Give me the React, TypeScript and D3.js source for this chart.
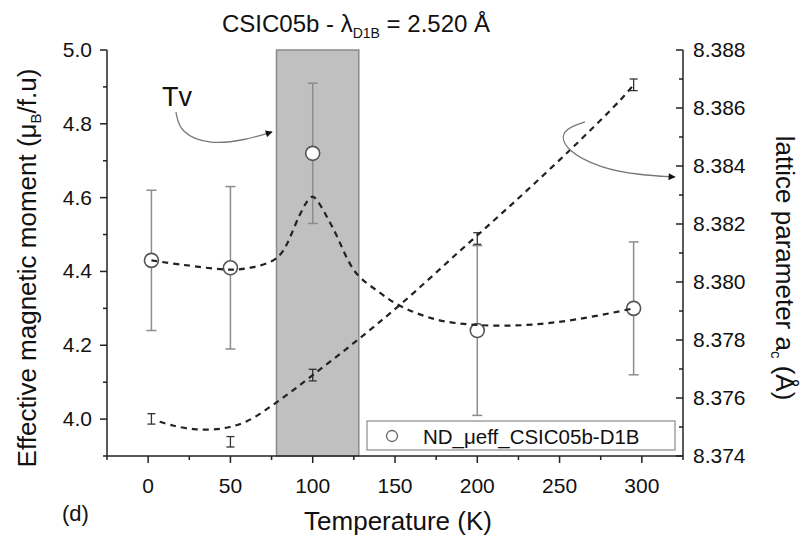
import React from "react";
import * as d3 from "d3";

// ---- data ----
const temps = [2, 50, 100, 200, 295];
const mueff = [4.43, 4.41, 4.72, 4.24, 4.30];
const mueffErr = [0.19, 0.22, 0.19, 0.23, 0.18];

const latticeT = [2, 50, 100, 200, 295];
const lattice = [8.37528, 8.37449, 8.37679, 8.3815, 8.3868];
const latticeErr = [0.00018, 0.00018, 0.0002, 0.0002, 0.0002];

// guide-to-the-eye dashed curves
const muFitT = [2, 21, 50, 63, 76, 82, 92, 97, 100, 103, 112, 126, 140, 153, 175, 200, 230, 260, 295];
const muFitV = [4.43, 4.418, 4.405, 4.411, 4.43, 4.456, 4.552, 4.592, 4.603, 4.59, 4.52, 4.398, 4.345, 4.307, 4.27, 4.255, 4.255, 4.27, 4.30];

const latFitT = [7, 15, 29, 45, 60, 80, 100, 125, 153, 190, 226, 260, 287, 295];
const latFitV = [8.37518, 8.37505, 8.37492, 8.37495, 8.3752, 8.37593, 8.37679, 8.3779, 8.37921, 8.3811, 8.38294, 8.38475, 8.38628, 8.3868];

const shadeRange = [78, 128];

const xTicks = [0, 50, 100, 150, 200, 250, 300];
const xMinor = [-25, 25, 75, 125, 175, 225, 275, 325];
const yLTicks = [4.0, 4.2, 4.4, 4.6, 4.8, 5.0];
const yLMinor = [3.9, 4.1, 4.3, 4.5, 4.7, 4.9];
const yRTicks = [8.374, 8.376, 8.378, 8.38, 8.382, 8.384, 8.386, 8.388];
const yRMinor = [8.375, 8.377, 8.379, 8.381, 8.383, 8.385, 8.387];

// annotation arrows in data coordinates (T, left-axis value)
const arrowTvT = [16.9, 19.4, 37.6, 58.9, 75.3];
const arrowTvV = [4.832, 4.775, 4.743, 4.756, 4.778];
const arrowRT = [265.4, 250.3, 253.3, 274.6, 298.9, 320.1];
const arrowRV = [4.805, 4.783, 4.729, 4.68, 4.661, 4.656];

const FONT = "'Liberation Sans', Arial, Helvetica, sans-serif";

export default function App() {
  const W = 807, H = 540;
  const L = 107, R = 683, T = 50, B = 456;
  const x = d3.scaleLinear().domain([-25, 325]).range([L, R]);
  const yL = d3.scaleLinear().domain([3.9, 5.0]).range([B, T]);
  const yR = d3.scaleLinear().domain([8.374, 8.388]).range([B, T]);

  const muLine = d3.line<number>().x((_, i) => x(muFitT[i])).y((v) => yL(v)).curve(d3.curveCatmullRom.alpha(0.5));
  const latLine = d3.line<number>().x((_, i) => x(latFitT[i])).y((v) => yR(v)).curve(d3.curveCatmullRom.alpha(0.5));
  const arrTv = d3.line<number>().x((_, i) => x(arrowTvT[i])).y((v) => yL(v)).curve(d3.curveBasis);
  const arrR = d3.line<number>().x((_, i) => x(arrowRT[i])).y((v) => yL(v)).curve(d3.curveBasis);

  const tickFs = 21;
  const axisCol = "#222";

  return (
    <svg width={W} height={H} style={{ position: "absolute", left: 0, top: 0, background: "#fff" }} fontFamily={FONT}>
      <defs>
        <marker id="ah" viewBox="0 0 10 10" refX="9" refY="5" markerWidth="9" markerHeight="7" orient="auto" markerUnits="userSpaceOnUse">
          <path d="M0,0 L10,5 L0,10 z" fill="#111" />
        </marker>
      </defs>
      <rect x={0} y={0} width={W} height={H} fill="#fff" />

      {/* shaded region */}
      <rect x={x(shadeRange[0])} y={T} width={x(shadeRange[1]) - x(shadeRange[0])} height={B - T}
        fill="#c0c0c0" stroke="#8a8a8a" strokeWidth={1.5} />

      {/* legend */}
      <rect x={367} y={421} width={308} height={29} fill="#fff" stroke="#8a8a8a" strokeWidth={1.2} />
      <circle cx={392} cy={436} r={5.5} fill="#fff" stroke="#666" strokeWidth={1.3} />
      <text x={423} y={444} fontSize={20.5} fill="#111">ND_μeff_CSIC05b-D1B</text>

      {/* magnetic error bars */}
      {temps.map((t, i) => {
        const cx = x(t), y1 = yL(mueff[i] + mueffErr[i]), y2 = yL(mueff[i] - mueffErr[i]);
        return (
          <g key={"me" + i} stroke="#8c8c8c" strokeWidth={1.5}>
            <line x1={cx} x2={cx} y1={y1} y2={y2} />
            <line x1={cx - 5} x2={cx + 5} y1={y1} y2={y1} />
            <line x1={cx - 5} x2={cx + 5} y1={y2} y2={y2} />
          </g>
        );
      })}

      {/* lattice error bars */}
      {latticeT.map((t, i) => {
        const cx = x(t), y1 = yR(lattice[i] + latticeErr[i]), y2 = yR(lattice[i] - latticeErr[i]);
        return (
          <g key={"le" + i} stroke="#333" strokeWidth={1.3}>
            <line x1={cx} x2={cx} y1={y1} y2={y2} />
            <line x1={cx - 4} x2={cx + 4} y1={y1} y2={y1} />
            <line x1={cx - 4} x2={cx + 4} y1={y2} y2={y2} />
          </g>
        );
      })}

      {/* magnetic points */}
      {temps.map((t, i) => (
        <circle key={"mp" + i} cx={x(t)} cy={yL(mueff[i])} r={7} fill="#fff" stroke="#555" strokeWidth={1.6} />
      ))}

      {/* dashed curves */}
      <path d={muLine(muFitV) || ""} fill="none" stroke="#222" strokeWidth={2.2} strokeDasharray="6,5" />
      <path d={latLine(latFitV) || ""} fill="none" stroke="#222" strokeWidth={2.2} strokeDasharray="6,5" />

      {/* arrows */}
      <path d={arrTv(arrowTvV) || ""} fill="none" stroke="#777" strokeWidth={1.3} markerEnd="url(#ah)" />
      <path d={arrR(arrowRV) || ""} fill="none" stroke="#777" strokeWidth={1.3} markerEnd="url(#ah)" />
      <text x={162} y={106} fontSize={27} fill="#111">Tv</text>

      {/* axes lines */}
      <line x1={L} x2={L} y1={T} y2={B} stroke={axisCol} strokeWidth={1.5} />
      <line x1={R} x2={R} y1={T} y2={B} stroke={axisCol} strokeWidth={1.5} />
      <line x1={L} x2={R} y1={B} y2={B} stroke={axisCol} strokeWidth={1.5} />

      {/* bottom ticks */}
      {xTicks.map((t) => (
        <g key={"xt" + t}>
          <line x1={x(t)} x2={x(t)} y1={B} y2={B + 7} stroke={axisCol} strokeWidth={1.5} />
          <text x={x(t)} y={493} fontSize={tickFs} textAnchor="middle" fill="#111">{t}</text>
        </g>
      ))}
      {xMinor.map((t) => (
        <line key={"xm" + t} x1={x(t)} x2={x(t)} y1={B} y2={B + 4} stroke={axisCol} strokeWidth={1.5} />
      ))}

      {/* left ticks */}
      {yLTicks.map((v) => (
        <g key={"yl" + v}>
          <line x1={L - 7} x2={L} y1={yL(v)} y2={yL(v)} stroke={axisCol} strokeWidth={1.5} />
          <text x={92} y={yL(v) + 7} fontSize={tickFs} textAnchor="end" fill="#111">{v.toFixed(1)}</text>
        </g>
      ))}
      {yLMinor.map((v) => (
        <line key={"ylm" + v} x1={L - 4} x2={L} y1={yL(v)} y2={yL(v)} stroke={axisCol} strokeWidth={1.5} />
      ))}

      {/* right ticks (inward) */}
      {yRTicks.map((v) => (
        <g key={"yr" + v}>
          <line x1={R - 7} x2={R} y1={yR(v)} y2={yR(v)} stroke={axisCol} strokeWidth={1.5} />
          <text x={693} y={yR(v) + 7} fontSize={tickFs} textAnchor="start" fill="#111">{v.toFixed(3)}</text>
        </g>
      ))}
      {yRMinor.map((v) => (
        <line key={"yrm" + v} x1={R - 4} x2={R} y1={yR(v)} y2={yR(v)} stroke={axisCol} strokeWidth={1.5} />
      ))}

      {/* titles */}
      <text x={222} y={32} fontSize={24} fill="#111">
        CSIC05b - λ<tspan fontSize={14} dy={6}>D1B</tspan><tspan dy={-6}> = 2.520 Å</tspan>
      </text>
      <text x={398} y={530} fontSize={26} textAnchor="middle" fill="#111">Temperature (K)</text>
      <text x={62} y={521} fontSize={22} fill="#111">(d)</text>
      <text transform="translate(36,268) rotate(-90)" fontSize={26} textAnchor="middle" fill="#111">
        Effective magnetic moment (μ<tspan fontSize={15} dy={5}>B</tspan><tspan dy={-5}>/f.u)</tspan>
      </text>
      <text transform="translate(776,268) rotate(90)" fontSize={26} textAnchor="middle" fill="#111">
        lattice parameter a<tspan fontSize={15} dy={5}>c</tspan><tspan dy={-5}> (Å)</tspan>
      </text>
    </svg>
  );
}
